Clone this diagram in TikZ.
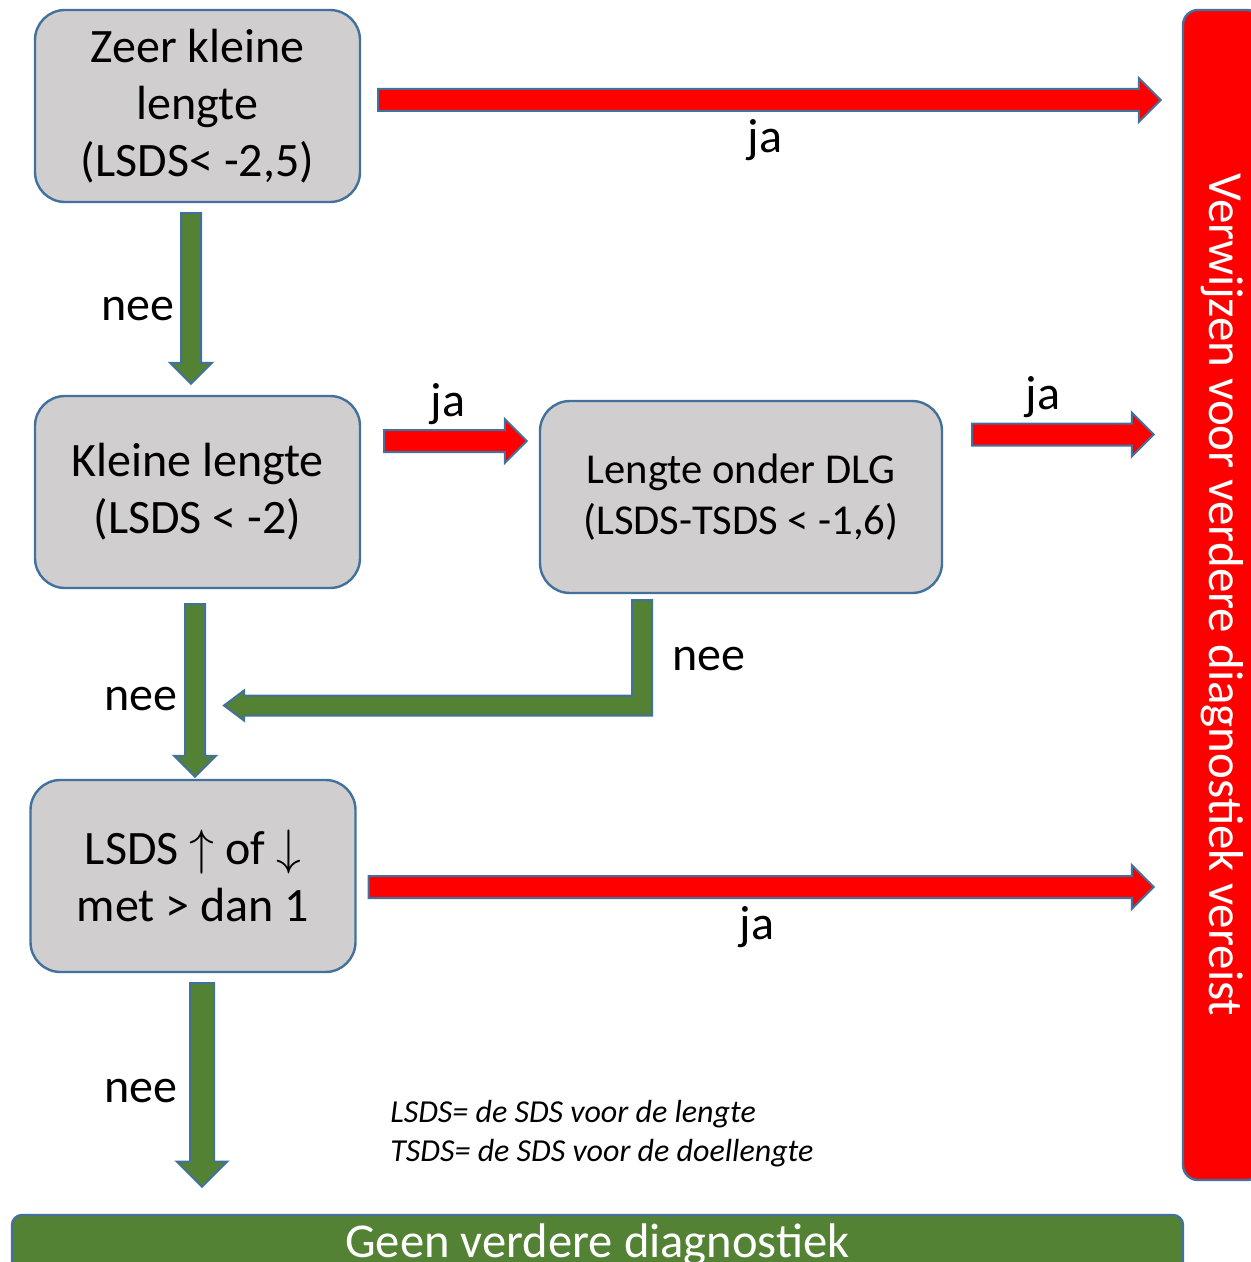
\documentclass[tikz,border=0pt]{standalone}
\usepackage{fontspec}
\setmainfont{Carlito}
\usetikzlibrary{positioning,calc}
\definecolor{Outline}{HTML}{41719C}
\definecolor{Grey}{HTML}{D0CECE}
\definecolor{Green}{HTML}{548235}
\definecolor{Red}{HTML}{FF0000}
\tikzset{
  rblk/.style={draw=Outline,line width=1pt,fill=Red,
    to path={let \p1=(\tikztostart),\p2=(\tikztotarget) in
      (\x1,\y1+5.5pt) -- (\x2-11pt,\y1+5.5pt) -- (\x2-11pt,\y1+11pt) -- (\x2,\y1)
      -- (\x2-11pt,\y1-11pt) -- (\x2-11pt,\y1-5.5pt) -- (\x1,\y1-5.5pt) -- cycle}},
  dblk/.style={draw=Outline,line width=1pt,fill=Green,
    to path={let \p1=(\tikztostart),\p2=(\tikztotarget) in
      (\x1-5pt*#1,\y1) -- (\x1-5pt*#1,\y2+10.5pt*#1) -- (\x1-10.5pt*#1,\y2+10.5pt*#1) -- (\x1,\y2)
      -- (\x1+10.5pt*#1,\y2+10.5pt*#1) -- (\x1+5pt*#1,\y2+10.5pt*#1) -- (\x1+5pt*#1,\y1) -- cycle}},
  dblk/.default=1,
  bblk/.style={draw=Outline,line width=1pt,fill=Green,
    to path={let \p1=(\tikztostart),\p2=(\tikztotarget) in
      (\x1-5pt,\y1) -- (\x1+5pt,\y1) -- (\x1+5pt,\y2-5pt) -- (\x2+10pt,\y2-5pt) -- (\x2+10pt,\y2-7.5pt)
      -- (\x2,\y2) -- (\x2+10pt,\y2+7.5pt) -- (\x2+10pt,\y2+5pt) -- (\x1-5pt,\y2+5pt) -- cycle}}
}

\begin{document}
\begin{tikzpicture}[x=0.5pt,y=-0.5pt,every node/.style={font=\fontsize{24}{28.5}\selectfont}]
\tikzstyle{vak}=[draw=Outline,line width=1.2pt,fill=Grey,rounded corners=15pt,minimum width=162.5pt,minimum height=96pt,align=center,inner sep=0pt]
\useasboundingbox (0,0) rectangle (1250,1262);

% vakken
\node[vak] (zk) at (197.5,106) {Zeer kleine\\ lengte\\ (LSDS< -2,5)};
\node[vak] (kl) at (197.5,492) {Kleine lengte\\ (LSDS < -2)};
\node[vak,minimum width=201pt,font=\fontsize{21.3}{25.5}\selectfont] (dlg) at (741,497) {Lengte onder DLG\\ (LSDS-TSDS < -1,6)};
\node[vak] (ls) at (193,876) {LSDS $\uparrow$ of $\downarrow$\\ met > dan 1};

% uitkomsten
\node[draw=Outline,line width=1.2pt,fill=Red,rounded corners=7.5pt,minimum width=39.5pt,minimum height=585pt,
  label={[rotate=-90,text=white,font=\fontsize{24.5}{28.5}\selectfont]center:Verwijzen voor verdere diagnostiek vereist}] (verw) at (1222.5,595) {};
\node[draw=Outline,line width=1.2pt,fill=Green,rounded corners=5pt,minimum width=585.5pt,minimum height=30pt,
  text=white,font=\fontsize{24.3}{28.5}\selectfont] (geen) at (597.5,1245) {Geen verdere diagnostiek};

% pijlen ja
\draw[rblk] ($(zk.east)+(17,-6)$) to ($(zk.east -| verw.west)+(-21,-6)$);
\draw[rblk] ($(kl.east)+(23,-51)$) to ($(kl.east -| dlg.west)+(-12,-51)$);
\draw[rblk] ($(dlg.east)+(29,-62.5)$) to ($(dlg.east -| verw.west)+(-28,-62.5)$);
\draw[rblk] ($(ls.east)+(12,11)$) to ($(ls.east -| verw.west)+(-28,11)$);

% pijlen nee
\draw[dblk] ($(zk.south)+(-6.5,10)$) to ($(kl.north)+(-6.5,-11)$);
\draw[dblk] ($(kl.south)+(-2.5,15)$) to ($(kl.south |- ls.north)+(-2.5,-2)$);
\coordinate (terug) at (224,705.5);
\draw[bblk] ($(dlg.south)+(-99,6)$) to (terug);
\draw[dblk=1.2] ($(ls.south)+(9,10)$) to ($(ls.south |- geen.north)+(9,-27)$);

% labels
\node (ja1) at (765,140) {ja};
\node (ja2) at (448,404) {ja};
\node (ja3) at (1043,397) {ja};
\node (ja4) at (757,927) {ja};
\node (nee1) at (138,309) {nee};
\node (nee2) at (141,699) {nee};
\node (nee3) at (709,659) {nee};
\node (nee4) at (141,1091) {nee};

% legenda
\node[anchor=north west,align=left,inner sep=0pt,font=\fontsize{16}{19.5}\selectfont\itshape] (leg) at (390,1100)
  {LSDS= de SDS voor de lengte\\ TSDS= de SDS voor de doellengte};
\end{tikzpicture}
\end{document}
